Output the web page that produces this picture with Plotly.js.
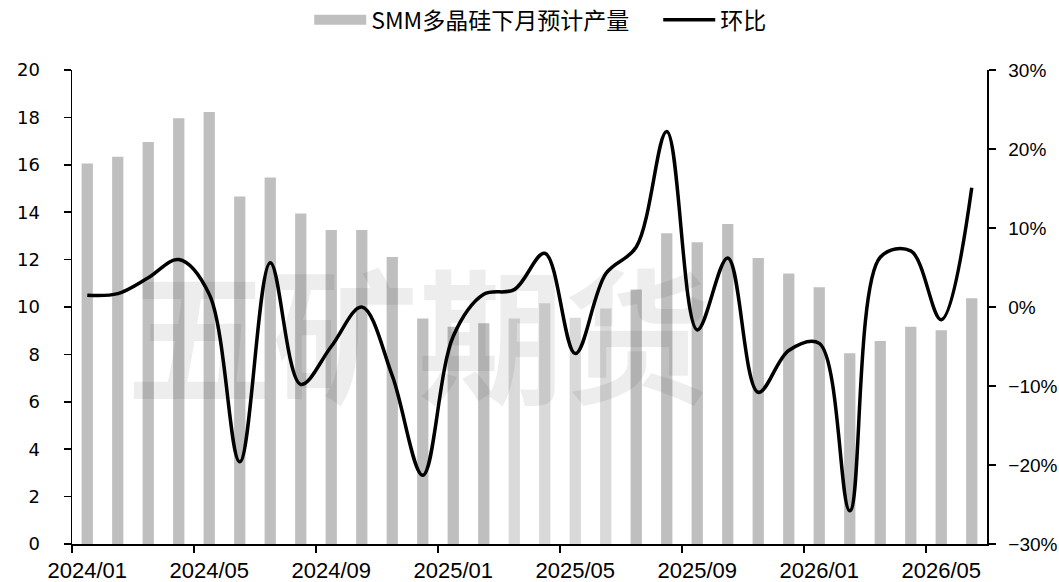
<!DOCTYPE html>
<html><head><meta charset="utf-8">
<script src="https://cdn.plot.ly/plotly-3.0.1.min.js"></script>
<style>html,body{margin:0;padding:0;background:#fff}#chart{width:1059px;height:582px}</style>
</head><body><div id="chart"></div>
<script>
const months = ["2024/01","2024/02","2024/03","2024/04","2024/05","2024/06","2024/07","2024/08","2024/09","2024/10","2024/11","2024/12",
                "2025/01","2025/02","2025/03","2025/04","2025/05","2025/06","2025/07","2025/08","2025/09","2025/10","2025/11","2025/12",
                "2026/01","2026/02","2026/03","2026/04","2026/05","2026/06"];
const output = [16.06, 16.34, 16.96, 17.96, 18.23, 14.66, 15.46, 13.95, 13.25, 13.25, 12.11, 9.52,
                9.17, 9.31, 9.52, 10.16, 9.55, 9.94, 10.74, 13.11, 12.73, 13.50, 12.07, 11.41,
                10.83, 8.05, 8.57, 9.17, 9.02, 10.37];
const mom = [1.5, 1.7, 3.7, 6.0, 1.6, -19.6, 5.6, -9.8, -5.0, 0.0, -8.7, -21.3,
             -3.7, 1.6, 2.2, 6.8, -5.9, 4.2, 7.6, 22.2, -2.9, 6.2, -10.8, -5.5,
             -4.6, -25.8, 6.3, 7.1, -1.6, 15.1];
const lightMonths = ["2025/03","2025/04","2025/05","2025/06"];
const barName = "SMM多晶硅下月预计产量";
const lineName = "环比";
const watermark = "五矿期货";

const idx = months.map((m, i) => i);
const labelIdx = idx.filter(i => i % 4 === 0);
const barColors = months.map(m => lightMonths.includes(m) ? "#d9d9d9" : "#bfbfbf");

const leftFont = {family: "'DejaVu Sans', sans-serif", size: 18, color: "#000"};
const rightFont = {family: "'Liberation Sans', Arial, sans-serif", size: 19, color: "#000"};
const xFont = {family: "'Liberation Sans', Arial, sans-serif", size: 22, color: "#000"};

const data = [
  {type: "bar", name: barName, x: idx, y: output, marker: {color: barColors, line: {width: 0}},
   yaxis: "y", showlegend: false},
  // legend entry for the bars (wide grey swatch, like the reference)
  {type: "scatter", mode: "lines", name: barName, x: [null], y: [null], yaxis: "y",
   line: {color: "#bfbfbf", width: 13}, hoverinfo: "skip"},
  {type: "scatter", mode: "lines", name: lineName, x: idx, y: mom, yaxis: "y2",
   line: {color: "#000", width: 3.5, shape: "spline", smoothing: 1}}
];

const layout = {
  width: 1059, height: 582,
  margin: {l: 72, r: 72, t: 70, b: 38, pad: 0, autoexpand: false},
  paper_bgcolor: "#fff", plot_bgcolor: "rgba(0,0,0,0)",
  bargap: 0.63,
  showlegend: true,
  legend: {orientation: "h", xref: "container", yref: "container", x: 0.292, xanchor: "left",
           y: 0.966, yanchor: "middle",
           font: {family: "'Noto Sans CJK SC', sans-serif", size: 23, color: "#000"},
           itemwidth: 52, entrywidth: 282, entrywidthmode: "pixels",
           tracegroupgap: 0, traceorder: "normal", bgcolor: "rgba(0,0,0,0)"},
  xaxis: {
    range: [-0.5, months.length - 0.5], fixedrange: true,
    tickmode: "array", tickvals: labelIdx, ticktext: labelIdx.map(i => months[i]),
    ticks: "", ticklabelstandoff: 6, tickfont: xFont,
    showline: true, linecolor: "#000", linewidth: 1.5, showgrid: false, zeroline: false,
    minor: {tickmode: "array", tickvals: labelIdx.map(i => i - 0.5), ticks: "outside", ticklen: 7, tickwidth: 1.5, tickcolor: "#000", showgrid: false},
    automargin: false
  },
  yaxis: {
    range: [0, 20], dtick: 2, tick0: 0, fixedrange: true,
    ticks: "outside", ticklen: 7, tickwidth: 1.5, tickcolor: "#000",
    tickfont: leftFont, ticklabelstandoff: 20,
    showline: true, linecolor: "#000", linewidth: 1.5, showgrid: false, zeroline: false,
    automargin: false
  },
  yaxis2: {
    overlaying: "y", side: "right", range: [-30, 30], dtick: 10, tick0: 0, fixedrange: true,
    ticksuffix: "%", ticks: "outside", ticklen: 7, tickwidth: 1.5, tickcolor: "#000",
    tickfont: rightFont, ticklabelstandoff: 9,
    showline: true, linecolor: "#000", linewidth: 1.5, showgrid: false, zeroline: false,
    automargin: false
  },
  annotations: [{
    text: watermark, xref: "paper", yref: "paper", x: 0.378, y: 0.455, xanchor: "center", yanchor: "middle",
    showarrow: false, font: {family: "'Noto Sans CJK SC', sans-serif", size: 146, weight: 700, color: "rgba(0,0,0,0.07)"}
  }]
};

Plotly.newPlot("chart", data, layout, {displayModeBar: false, staticPlot: true});
</script>
</body></html>
